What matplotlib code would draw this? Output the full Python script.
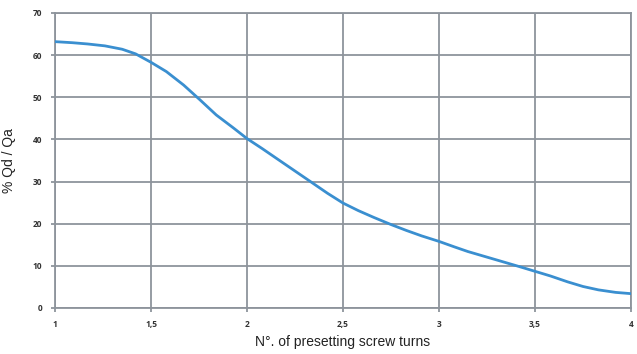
import matplotlib
matplotlib.use("Agg")
import matplotlib.pyplot as plt

turns = [1.0, 1.09, 1.17, 1.26, 1.35, 1.42, 1.5, 1.58, 1.67, 1.755, 1.84, 1.93,
         2.0, 2.08, 2.16, 2.25, 2.34, 2.42, 2.5, 2.58, 2.66, 2.75, 2.83, 2.91,
         3.0, 3.08, 3.15, 3.24, 3.33, 3.42, 3.5, 3.58, 3.67, 3.75, 3.83, 3.92, 4.0]
qd_qa = [63.2, 62.95, 62.65, 62.2, 61.4, 60.3, 58.3, 56.1, 52.9, 49.4, 45.8, 42.7,
         40.2, 37.8, 35.3, 32.5, 29.7, 27.2, 24.9, 23.1, 21.5, 19.8, 18.4, 17.1,
         15.8, 14.5, 13.4, 12.2, 11.0, 9.8, 8.7, 7.6, 6.2, 5.1, 4.3, 3.7, 3.4]
xticks = [1, 1.5, 2, 2.5, 3, 3.5, 4]
xticklabels = ["1", "1,5", "2", "2,5", "3", "3,5", "4"]
yticks = [0, 10, 20, 30, 40, 50, 60, 70]
yticklabels = ["0", "10", "20", "30", "40", "50", "60", "70"]

grid_c = "#8d949c"
fig = plt.figure(figsize=(6.37, 3.54), dpi=100)
ax = fig.add_axes([0.0863, 0.130, 0.9043, 0.8333])
ax.plot(turns, qd_qa, color="#3a8fd0", lw=2.0, solid_capstyle="round",
        solid_joinstyle="round", zorder=3)
ax.set_xlim(1, 4)
ax.set_ylim(0, 70)
ax.set_xticks(xticks)
ax.set_xticklabels(xticklabels)
ax.set_yticks(yticks)
ax.set_yticklabels(yticklabels)
ax.grid(True, color=grid_c, lw=1.3)
for s in ax.spines.values():
    s.set_color(grid_c)
    s.set_linewidth(1.3)
ax.tick_params(axis="both", length=3, width=1.3, color=grid_c, pad=6,
               labelsize=6, labelcolor="#333333")
for lab in ax.get_xticklabels() + ax.get_yticklabels():
    lab.set_fontweight("bold")
    lab.set_family("Open Sans")
ax.set_xlabel("N°. of presetting screw turns", fontsize=10, family="Liberation Sans",
              color="#222222", labelpad=4)
ax.set_ylabel("% Qd / Qa", fontsize=10, family="Liberation Sans",
              color="#222222", labelpad=12)
fig.savefig("out.png", dpi=100)
